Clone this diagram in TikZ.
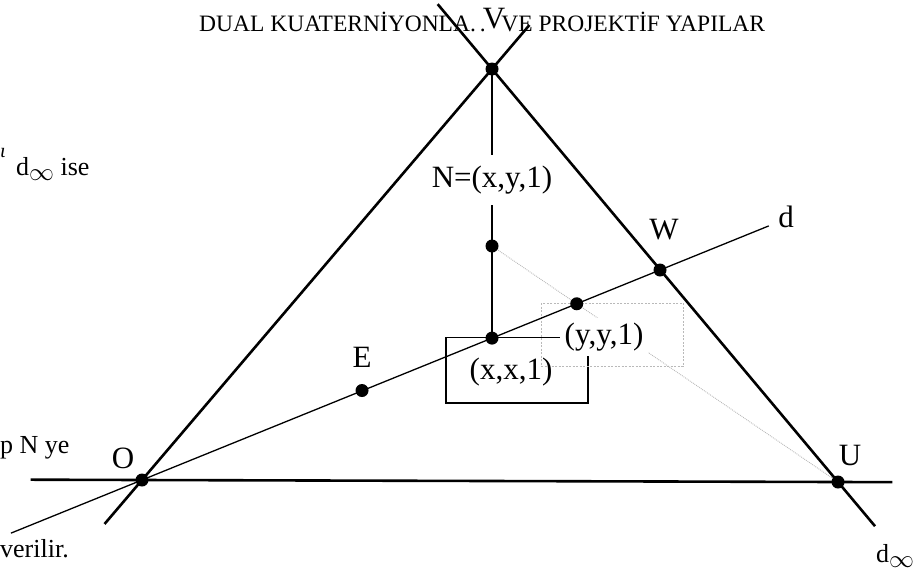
\documentclass[tikz,border=0pt]{standalone}
\usepackage{fontspec}
\setmainfont{Liberation Serif}
\usetikzlibrary{calc}
\newcommand{\infsub}{\raisebox{-5pt}{\fontsize{25}{25}\selectfont$\infty$}}
\begin{document}
\begin{tikzpicture}[x=1pt,y=-1pt,
  thickline/.style={line width=2.6pt},
  dline/.style={line width=1.3pt},
  vline/.style={line width=1.6pt},
  boxline/.style={line width=1.1pt},
  grayline/.style={gray!55,line width=0.9pt,densely dotted},
  graybox/.style={gray!55,line width=0.9pt,dash pattern=on 2pt off 1.5pt},
  dot/.style={circle,fill=black,inner sep=0pt,minimum size=13pt},
  lab/.style={font=\fontsize{31}{36}\selectfont,inner sep=0pt},
  side/.style={font=\fontsize{26}{30}\selectfont,inner sep=0pt,anchor=base west},
]
\useasboundingbox (0,0) rectangle (923,576);
\coordinate (V) at (492,69);
\coordinate (O) at (142,480);
\coordinate (U) at (838,482);
\coordinate (W) at (660,270);
\coordinate (N) at (492,246);
\coordinate (E) at (362,390.5);
\coordinate (X) at (492,338.1);
\coordinate (Y) at (intersection of N--U and O--W);

% solid box around (x,x,1)
\draw[boxline] (446,337.5) rectangle (588,403);
% gray line N -- U
\draw[grayline] (N) -- (U);
% header
\node[font=\fontsize{23.5}{28}\selectfont,inner sep=0pt,anchor=base west] (hdr) at (199,31) {DUAL KUATERNİYONLA.\,.\ \ \,VE PROJEKTİF YAPILAR};
% N label and vertical line
\node[lab,fill=white,inner xsep=0pt,minimum height=50pt] (NL) at (492,180) {N=(x,y,1)};
\draw[vline] (V) -- (V |- NL.north);
\draw[vline] (V |- NL.south) -- (X);
% (y,y,1) label with white ground and dashed frame
\node[lab,fill=white,inner sep=5pt] (YL) at (604,337) {(y,y,1)};
\draw[graybox] (541,303) rectangle (683,366);
% line d
\draw[dline] ($(O)!-0.253!(W)$) -- ($(W)!-0.21!(O)$);
% triangle lines
\draw[thickline] ($(O)!-0.107!(V)$) -- ($(V)!-0.107!(O)$);
\draw[thickline] ($(V)!-0.157!(U)$) -- ($(U)!-0.107!(V)$);
\draw[thickline] ($(O)!-0.16!(U)$) -- ($(U)!-0.078!(O)$);
% dots
\node[dot] (dV) at (V) {};
\node[dot] (dO) at (O) {};
\node[dot] (dU) at (U) {};
\node[dot] (dW) at (W) {};
\node[dot] (dN) at (N) {};
\node[dot] (dE) at (E) {};
\node[dot] (dX) at (X) {};
\node[dot] (dY) at (Y) {};
% labels
\node[lab] (lV) at (494,19) {V};
\node[lab] (lW) at (664,230) {W};
\node[lab] (ld) at (786,217) {d};
\node[lab] (lE) at (362,357) {E};
\node[lab] (lO) at (123,458) {O};
\node[lab] (lU) at (850,455) {U};
\node[lab] (lX) at (511,372) {(x,x,1)};
% side texts
\node[font=\fontsize{20}{20}\selectfont\itshape,inner sep=0pt,anchor=base west] (s0) at (0,157) {ι};
\node[side] (s1) at (16,175) {d\infsub\ ise};
\node[side] (s2) at (0,453) {p N ye};
\node[side] (s3) at (0,557) {verilir.};
\node[side] (s4) at (876,562) {d\infsub};
\end{tikzpicture}
\end{document}
